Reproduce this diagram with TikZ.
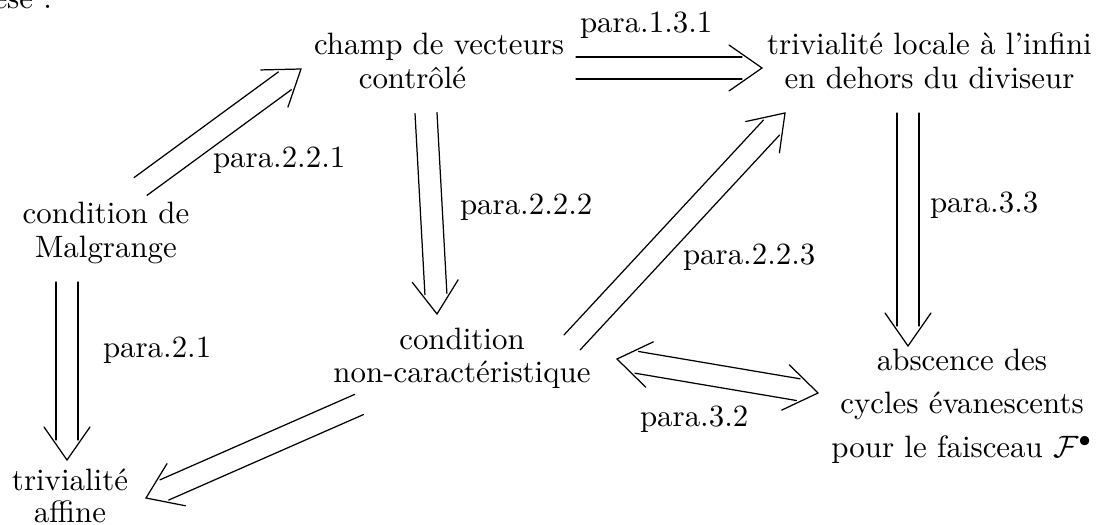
\documentclass[tikz,border=0pt]{standalone}
\usepackage{fontspec}
\usetikzlibrary{calc}
\tikzset{
  dline/.style={line width=0.4pt, line cap=round, line join=miter},
  txt/.style={inner sep=0pt, outer sep=0pt},
}
% double arrow with open chevron head, from #1 to tip #2
\newcommand\DA[2]{%
  \coordinate (dP) at ($(#2)!6.47pt!(#1)$);
  \coordinate (dQ) at ($(#2)!10.68pt!(#1)$);
  \draw[dline] ($(#1)!3.56pt!90:(#2)$) -- ($(dP)!3.56pt!-90:(#1)$);
  \draw[dline] ($(#1)!3.56pt!-90:(#2)$) -- ($(dP)!3.56pt!90:(#1)$);
  \draw[dline] ($(dQ)!7.44pt!90:(#1)$) -- (#2) -- ($(dQ)!7.44pt!-90:(#1)$);
}
% double arrow with heads at both ends
\newcommand\DDA[2]{%
  \coordinate (dP) at ($(#2)!6.47pt!(#1)$);
  \coordinate (dR) at ($(#1)!6.47pt!(#2)$);
  \coordinate (dQ) at ($(#2)!10.68pt!(#1)$);
  \coordinate (dS) at ($(#1)!10.68pt!(#2)$);
  \draw[dline] ($(dR)!3.56pt!90:(#2)$) -- ($(dP)!3.56pt!-90:(#1)$);
  \draw[dline] ($(dR)!3.56pt!-90:(#2)$) -- ($(dP)!3.56pt!90:(#1)$);
  \draw[dline] ($(dQ)!7.44pt!90:(#1)$) -- (#2) -- ($(dQ)!7.44pt!-90:(#1)$);
  \draw[dline] ($(dS)!7.44pt!90:(#2)$) -- (#1) -- ($(dS)!7.44pt!-90:(#2)$);
}
\begin{document}
\begin{tikzpicture}[x=0.3236pt, y=-0.3236pt]
\useasboundingbox (0,0) rectangle (1104,525);

% header (cut off at the top)
\node[txt, anchor=base east] (hyp) at (52,9) {hypoth\`ese :};

% main nodes
\node[txt, anchor=base west] (champ) at (314,55)
  {\begin{tabular}[t]{@{}l@{}}champ de vecteurs\\[-1.3pt]\hspace*{14.5pt}contrôlé\end{tabular}};
\node[txt, anchor=base] (loc) at (929.5,55)
  {\begin{tabular}[t]{@{}c@{}}trivialité locale à l’infini\\[-1.3pt]en dehors du diviseur\end{tabular}};
\node[txt, anchor=base] (mal) at (106,224)
  {\begin{tabular}[t]{@{}c@{}}condition de\\[-1.3pt]Malgrange\end{tabular}};
\node[txt, anchor=base] (cond) at (462,349)
  {\begin{tabular}[t]{@{}c@{}}condition\\[-1.3pt]non-caractéristique\end{tabular}};
\node[txt, anchor=base] (abs) at (962,370)
  {\begin{tabular}[t]{@{}c@{}}abscence des\\[2.2pt]cycles évanescents\\[2.2pt]pour le faisceau $\mathcal{F}^{\bullet}$\end{tabular}};
\node[txt, anchor=base] (aff) at (70,490)
  {\begin{tabular}[t]{@{}c@{}}trivialité\\[-1.5pt]affine\end{tabular}};

% labels
\node[txt, anchor=base west] (l131) at (580,33) {para.1.3.1};
\node[txt, anchor=base west] (l221) at (213,168) {para.2.2.1};
\node[txt, anchor=base west] (l222) at (460,215) {para.2.2.2};
\node[txt, anchor=base west] (l223) at (683,265) {para.2.2.3};
\node[txt, anchor=base west] (l33)  at (930,213) {para.3.3};
\node[txt, anchor=base west] (l21)  at (103,357) {para.2.1};
\node[txt, anchor=base west] (l32)  at (640,426) {para.3.2};

% connector end points
\coordinate (a1s) at (576,68);    \coordinate (a1e) at (762,68);
\coordinate (a2s) at (140.5,186.5); \coordinate (a2e) at (301,69);
\coordinate (a3s) at (426,113);   \coordinate (a3e) at (437,314);
\coordinate (a4s) at (572,342.5); \coordinate (a4e) at (785,113);
\coordinate (a5s) at (908,113);   \coordinate (a5e) at (908,346);
\coordinate (a6s) at (67,282);    \coordinate (a6e) at (67,460);
\coordinate (a7s) at (359,404.5); \coordinate (a7e) at (146,498);
\coordinate (a8s) at (617,359);   \coordinate (a8e) at (818,393);

\DA{a1s}{a1e}
\DA{a2s}{a2e}
\DA{a3s}{a3e}
\DA{a4s}{a4e}
\DA{a5s}{a5e}
\DA{a6s}{a6e}
\DA{a7s}{a7e}
\DDA{a8s}{a8e}
\end{tikzpicture}
\end{document}
